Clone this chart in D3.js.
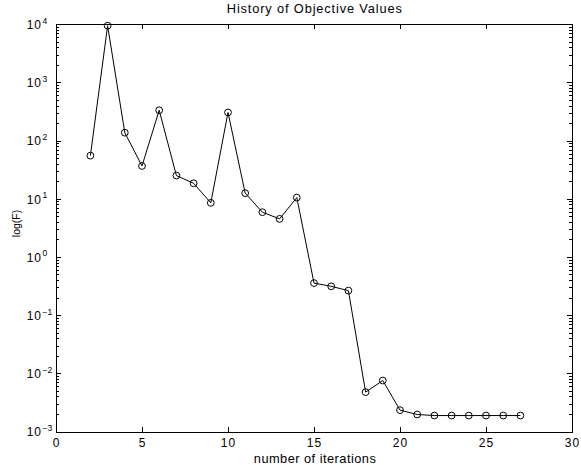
<!DOCTYPE html>
<html>
<head>
<meta charset="utf-8">
<script src="https://cdn.jsdelivr.net/npm/d3@7"></script>
<style>
  body { margin: 0; background: #fff; }
  svg { display: block; font-family: "Liberation Sans", Arial, Helvetica, sans-serif; }
  .axis path, .axis line { stroke: #000; stroke-width: 1; shape-rendering: crispEdges; }
</style>
</head>
<body>
<div id="chart"></div>
<script>
// iteration number and objective value F
var iterations = [2, 3, 4, 5, 6, 7, 8, 9, 10, 11, 12, 13, 14, 15, 16, 17, 18, 19, 20, 21, 22, 23, 24, 25, 26, 27];
var objective = [55.2, 9460, 137, 36.7, 333, 25.1, 18.5, 8.53, 305, 12.5, 5.89, 4.52, 10.5,
                 0.356, 0.313, 0.264, 0.00475, 0.00752, 0.00233, 0.00196,
                 0.00188, 0.00188, 0.00188, 0.00188, 0.00188, 0.00188];

// tick labels
var xTicks = [0, 5, 10, 15, 20, 25, 30];
var yExponents = [-3, -2, -1, 0, 1, 2, 3, 4];

(function() {
    var W = 581, H = 465;
    var left = 56, right = 572, top = 24.3, bottom = 431.5;

    var svg = d3.select("#chart").append("svg")
        .attr("width", W)
        .attr("height", H);

    //scales
    var x = d3.scaleLinear().domain([0, 30]).range([left, right]);
    var y = d3.scaleLog().domain([1e-3, 1e4]).range([bottom, top]);

    var majors = yExponents.map(function(e) { return Math.pow(10, e); });
    var minors = [];
    yExponents.slice(0, -1).forEach(function(e) {
        for (var m = 2; m <= 9; m++) minors.push(m * Math.pow(10, e));
    });

    //x axes (ticks pointing inward)
    svg.append("g").attr("class", "axis")
        .attr("transform", "translate(0," + bottom + ")")
        .call(d3.axisBottom(x).tickValues(xTicks).tickSizeInner(-5).tickSizeOuter(0).tickFormat(""));
    svg.append("g").attr("class", "axis")
        .attr("transform", "translate(0," + top + ")")
        .call(d3.axisTop(x).tickValues(xTicks).tickSizeInner(-5).tickSizeOuter(0).tickFormat(""));

    //y axes, major + minor
    [[d3.axisLeft, left], [d3.axisRight, right]].forEach(function(a) {
        svg.append("g").attr("class", "axis")
            .attr("transform", "translate(" + a[1] + ",0)")
            .call(a[0](y).tickValues(majors).tickSizeInner(-5).tickSizeOuter(0).tickFormat(""));
        svg.append("g").attr("class", "axis")
            .attr("transform", "translate(" + a[1] + ",0)")
            .call(a[0](y).tickValues(minors).tickSizeInner(-3).tickSizeOuter(0).tickFormat(""))
            .select(".domain").remove();
    });

    //x tick labels
    svg.append("g").selectAll("text")
        .data(xTicks)
        .enter().append("text")
        .attr("x", function(d) { return x(d) + 0.5; })
        .attr("y", bottom + 15.5)
        .attr("text-anchor", "middle")
        .attr("font-size", "12px")
        .attr("letter-spacing", "1px")
        .text(function(d) { return d; });

    //y tick labels: 10 with superscript exponent
    var yl = svg.append("g").selectAll("g")
        .data(yExponents)
        .enter().append("g");
    yl.append("text")
        .attr("x", 42)
        .attr("y", function(d) { return y(Math.pow(10, d)) + 4.8; })
        .attr("text-anchor", "end")
        .attr("font-size", "12px")
        .attr("letter-spacing", "1px")
        .text("10");
    yl.append("text")
        .attr("x", 42.5)
        .attr("y", function(d) { return y(Math.pow(10, d)) - 0.5; })
        .attr("font-size", "8.5px")
        .text(function(d) { return d < 0 ? "\u2212" + (-d) : d; });

    //line + circle markers
    var pts = iterations.map(function(d, i) { return [d, objective[i]]; });
    var line = d3.line()
        .x(function(d) { return x(d[0]); })
        .y(function(d) { return y(d[1]); });

    svg.append("path")
        .datum(pts)
        .attr("d", line)
        .attr("fill", "none")
        .attr("stroke", "#000")
        .attr("stroke-width", 1);

    svg.selectAll(".marker")
        .data(pts)
        .enter().append("circle")
        .attr("class", "marker")
        .attr("cx", function(d) { return x(d[0]); })
        .attr("cy", function(d) { return y(d[1]); })
        .attr("r", 3.4)
        .attr("fill", "none")
        .attr("stroke", "#000")
        .attr("stroke-width", 1);

    //title
    svg.append("text")
        .attr("x", 314.3)
        .attr("y", 12.8)
        .attr("text-anchor", "middle")
        .attr("font-size", "12.8px")
        .attr("textLength", 175)
        .attr("lengthAdjust", "spacing")
        .text("History of Objective Values");

    //x-axis title
    svg.append("text")
        .attr("x", 314.8)
        .attr("y", 463)
        .attr("text-anchor", "middle")
        .attr("font-size", "12.8px")
        .attr("textLength", 122)
        .attr("lengthAdjust", "spacing")
        .text("number of iterations");

    //y-axis title
    svg.append("text")
        .attr("transform", "translate(19.5,223.5) rotate(-90)")
        .attr("text-anchor", "middle")
        .attr("font-size", "10.5px")
        .text("log(F)");
})();
</script>
</body>
</html>
